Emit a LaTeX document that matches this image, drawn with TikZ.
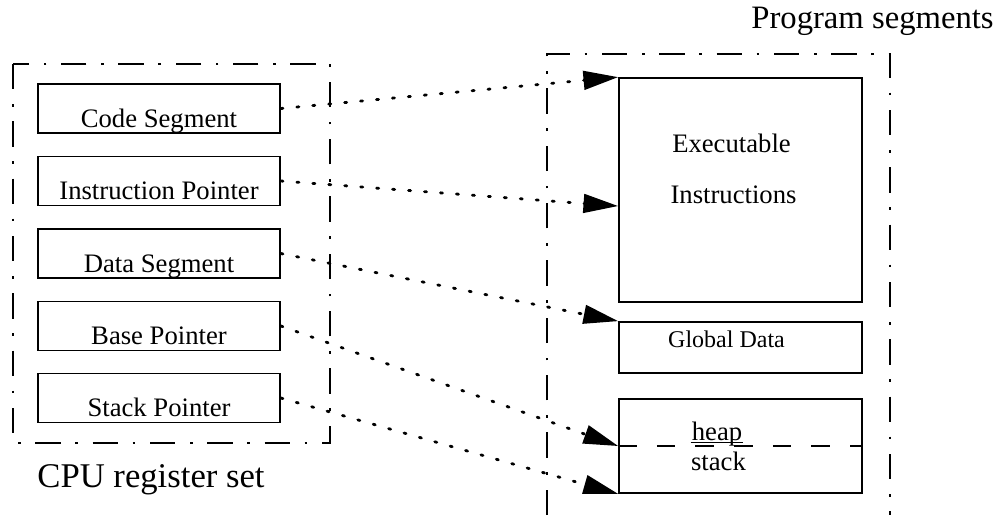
\documentclass[tikz,border=0pt]{standalone}
\usepackage{fontspec}
\setmainfont{Liberation Serif}
\usetikzlibrary{arrows.meta,calc}

\begin{document}
\begin{tikzpicture}[x=0.75pt,y=0.75pt,yscale=-1,xscale=1,
	frame/.style={line width=1.6pt, dash pattern=on 19pt off 11pt on 2pt off 11pt},
	regbox/.style={draw, line width=1.3pt, minimum width=181.5pt, inner sep=0pt, text height=32.25pt, text depth=4.5pt, font=\fontsize{20}{24}\selectfont},
	segbox/.style={draw, line width=1.3pt, minimum width=182.25pt, inner sep=0pt},
	txt/.style={inner sep=0pt, anchor=base, font=\fontsize{20}{24}\selectfont},
	ptr/.style={line width=2.1pt, line cap=round, dash pattern=on 1.6pt off 10.4pt, -{Triangle[length=26pt,width=14pt]}},
	divider/.style={line width=1.2pt, dash pattern=on 14pt off 15pt}]
	\useasboundingbox (0,0) rectangle (997,515);

	%Shape: Frame, registers
	\draw [frame] (13,64) rectangle (330,443) ;
	%Shape: Frame, segments
	\draw [frame] (547,515) -- (547,54) -- (890,54) -- (890,515) ;

	% Register boxes
	\node [regbox] (codeseg) at (159,108.5) {Code Segment};
	\node [regbox] (instptr) at (159,181) {Instruction Pointer};
	\node [regbox] (dataseg) at (159,253.5) {Data Segment};
	\node [regbox] (baseptr) at (159,326) {Base Pointer};
	\node [regbox] (stackptr) at (159,398) {Stack Pointer};

	% Segment boxes
	\node [segbox, minimum height=168pt] (exec) at (740.5,190) {};
	\node [segbox, minimum height=38.25pt] (globdata) at (740.5,347.5) {};
	\node [segbox, minimum height=70.5pt] (heapstack) at (740.5,446) {};
	\draw [divider] (heapstack.west) -- (heapstack.east) ;

	% Text Node
	\node [txt] (exectop) at (731.5,152) {Executable};
	% Text Node
	\node [txt] (execbot) at (733.5,203) {Instructions};
	% Text Node
	\node [txt, font=\fontsize{18}{22}\selectfont] (globtxt) at (726.5,347) {Global Data};
	% Text Node
	\node [txt] (heap) at (717,440) {heap};
	\draw [line width=0.9pt] ($(heap.base west)+(-1,2.5)$) -- ($(heap.base east)+(1,2.5)$) ;
	% Text Node
	\node [txt] (stack) at (718.5,470) {stack};
	% Text Node
	\node [txt, font=\fontsize{24.5}{29}\selectfont] (progtitle) at (872.5,28) {Program segments};
	% Text Node
	\node [txt, font=\fontsize{26}{31}\selectfont] (cputitle) at (151,487) {CPU register set};

	% Pointers
	\draw [ptr] (codeseg.east) -- (exec.north west) ;
	\draw [ptr] (instptr.east) -- ($(exec.north west)!0.571!(exec.south west)$) ;
	\draw [ptr] (dataseg.east) -- (globdata.north west) ;
	\draw [ptr] (baseptr.east) -- (heapstack.west) ;
	\draw [ptr] (stackptr.east) -- (heapstack.south west) ;

\end{tikzpicture}
\end{document}
